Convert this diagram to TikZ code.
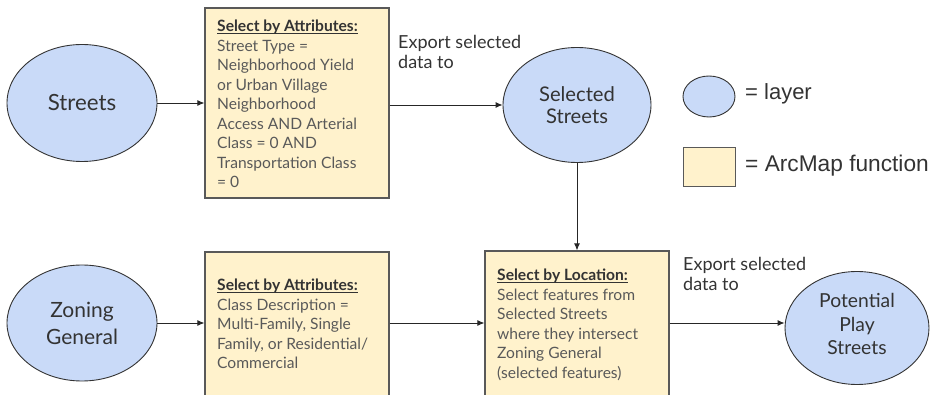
\documentclass[tikz,border=0pt]{standalone}
\usepackage{fontspec}
\setmainfont{Lato}
\newfontfamily\legfont{Liberation Sans}
\usetikzlibrary{shapes.geometric,arrows.meta}
\definecolor{layerblue}{HTML}{C9DAF8}
\definecolor{funcyellow}{HTML}{FFF2CC}
\definecolor{txtdark}{HTML}{333333}
\definecolor{txtgray}{HTML}{595959}
\definecolor{boxedge}{HTML}{595959}
\tikzset{
  layer/.style={ellipse,draw=txtdark,line width=0.9pt,fill=layerblue,inner sep=0pt,align=center,text=txtdark},
  func/.style={rectangle,draw=boxedge,line width=1.2pt,fill=funcyellow,inner sep=0pt,text=txtgray},
  conn/.style={line width=0.9pt,draw=black!85,-{Latex[length=7pt,width=6pt]}},
  lbl/.style={inner sep=0pt,align=center,text=txtdark},
  note/.style={inner sep=0pt,anchor=north west,align=left,text=txtdark,font=\fontsize{18}{20}\selectfont},
  boxtext/.style={inner sep=0pt,anchor=west,align=left,text=txtgray,font=\fontsize{15.6}{19.5}\selectfont},
}
\newsavebox\ttlbox
\newcommand{\ttl}[1]{{\color{txtdark}\sbox\ttlbox{\textbf{#1}}\rlap{\rule[-2.2pt]{\wd\ttlbox}{0.9pt}}\usebox\ttlbox}}
\begin{document}
\begin{tikzpicture}[x=1pt,y=-1pt]
\useasboundingbox (0,0) rectangle (930,395);
\clip (0,0) rectangle (930,395);
% layers
\node[layer,minimum width=150,minimum height=117,font=\fontsize{22.3}{26}\selectfont] (streets) at (82,103) {Streets};
\node[layer,minimum width=148,minimum height=115,font=\fontsize{20.2}{22}\selectfont] (selst) at (577,105) {Selected\\Streets};
\node[layer,minimum width=150,minimum height=116,font=\fontsize{21}{27}\selectfont] (zoning) at (82,323) {Zoning\\General};
\node[layer,minimum width=144,minimum height=113] (pot) at (857,328) {};
\node[lbl,font=\fontsize{19.3}{23.5}\selectfont] (potlbl) at (857,324) {Potential\\Play\\Streets};
% functions
\node[func,minimum width=184,minimum height=190] (box1) at (297,103) {};
\node[boxtext] (box1txt) at (217,104) {\ttl{Select by Attributes:}\\Street Type =\\Neighborhood Yield\\or Urban Village\\Neighborhood\\Access AND Arterial\\Class = 0 AND\\Transportation Class\\= 0};
\node[func,minimum width=184,minimum height=146] (box2) at (297,325) {};
\node[boxtext] (box2txt) at (217,324) {\ttl{Select by Attributes:}\\Class Description =\\Multi-Family, Single\\Family, or Residential/\\Commercial};
\node[func,minimum width=184,minimum height=148] (box3) at (577,325) {};
\node[boxtext] (box3txt) at (497,325) {\ttl{Select by Location:}\\Select features from\\Selected Streets\\where they intersect\\Zoning General\\(selected features)};
% legend
\node[layer,minimum width=52,minimum height=41] (legl) at (709,96.5) {};
\node[inner sep=0pt,anchor=west,text=txtdark,font=\legfont\fontsize{22}{26}\selectfont] (leglt) at (745,94) {= layer};
\node[func,line width=1pt,minimum width=52,minimum height=39] (legf) at (709,167.5) {};
\node[inner sep=0pt,anchor=west,text=txtdark,font=\legfont\fontsize{22.7}{26}\selectfont] (legft) at (745,166) {= ArcMap function};
% notes
\node[note] (exp1) at (398,35) {Export selected\\data to};
\node[note] (exp2) at (683,257) {Export selected\\data to};
% connectors
\draw[conn] (streets.east) -- (box1.west);
\draw[conn] (box1.east |- selst.west) -- (selst.west);
\draw[conn] (selst.south) -- (box3.north);
\draw[conn] (zoning.east) -- (box2.west |- zoning.east);
\draw[conn] (box2.east |- zoning.east) -- (box3.west |- zoning.east);
\draw[conn] (box3.east |- zoning.east) -- (pot.west |- zoning.east);
\end{tikzpicture}
\end{document}
